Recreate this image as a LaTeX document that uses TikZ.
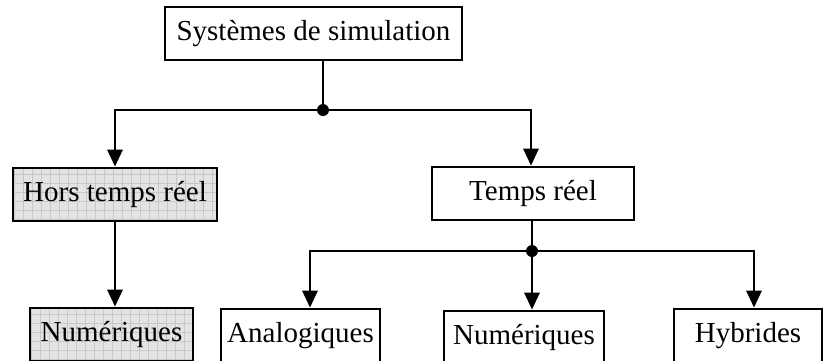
\documentclass[tikz,border=0pt]{standalone}
\usepackage{fontspec}
\setmainfont{Liberation Serif}
\usepackage{tikz}
\usetikzlibrary{arrows.meta, positioning}

\begin{document}
\begin{tikzpicture}[
    x=1pt, y=-1pt,
    every node/.style={font=\fontsize{29}{34}\selectfont},
    box/.style={draw, line width=2.6pt, minimum height=53pt, inner sep=0pt},
    grise/.style={box, fill=black!11, path picture={\draw[black!22, line width=0.5pt] (path picture bounding box.south west) grid[step=9pt] (path picture bounding box.north east);}},
    arr/.style={line width=2.8pt, -{Triangle[length=17pt, width=15pt]}},
    lien/.style={line width=2.8pt}
]
\useasboundingbox (0,0) rectangle (825,360);
\node[box, minimum width=297pt] (sys) at (313.5,33.5) {Systèmes de simulation};
\node[grise, minimum width=204pt] (hors) at (115,194.5) {Hors temps réel};
\node[box, minimum width=202pt] (tr) at (533,193.5) {Temps réel};
\node[grise, minimum width=163pt] (numh) at (111.5,334.5) {Numériques};
\node[box, minimum width=159pt] (ana) at (300.5,335.5) {Analogiques};
\node[box, minimum width=160pt] (numt) at (524,337.5) {Numériques};
\node[box, minimum width=148pt] (hyb) at (748,335.5) {Hybrides};
% points de jonction
\coordinate (j1) at (323,110);
\coordinate (j2) at (532,251);
\draw[lien] (sys.south -| j1) -- (j1);
\draw[arr] (j1) -| (hors.north);
\draw[arr] (j1) -| ([xshift=-2pt]tr.north);
\draw[arr] (hors.south) -- (hors.south |- numh.north);
\draw[lien] (tr.south -| j2) -- (j2);
\draw[arr] (j2) -| ([xshift=9.5pt]ana.north);
\draw[arr] (j2) -- (j2 |- numt.north);
\draw[arr] (j2) -| ([xshift=6pt]hyb.north);
\fill (j1) circle (6pt);
\fill (j2) circle (6pt);
\end{tikzpicture}
\end{document}
